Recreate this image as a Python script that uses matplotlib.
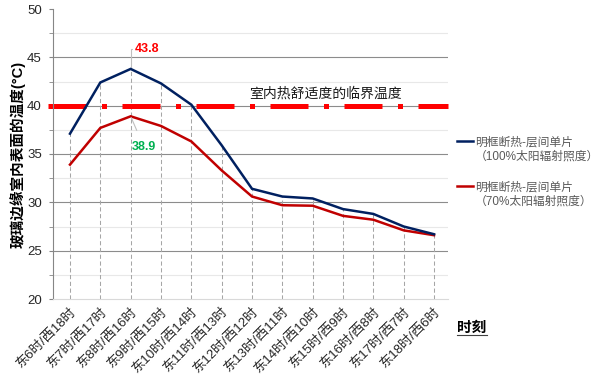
import matplotlib
matplotlib.use("Agg")
import matplotlib.pyplot as plt
from matplotlib.lines import Line2D
from matplotlib.ticker import MultipleLocator

plt.rcParams['font.family'] = ['Liberation Sans', 'Noto Sans CJK SC', 'DejaVu Sans']

# ---- data ----
categories = ["东6时/西18时", "东7时/西17时", "东8时/西16时", "东9时/西15时",
              "东10时/西14时", "东11时/西13时", "东12时/西12时", "东13时/西11时",
              "东14时/西10时", "东15时/西9时", "东16时/西8时", "东17时/西7时",
              "东18时/西6时"]
series_100 = [37.1, 42.4, 43.8, 42.3, 40.1, 35.9, 31.4, 30.6, 30.4, 29.3, 28.8, 27.5, 26.7]
series_70 = [33.9, 37.7, 38.9, 37.9, 36.3, 33.3, 30.6, 29.7, 29.65, 28.6, 28.2, 27.1, 26.6]
threshold = 40
threshold_label = "室内热舒适度的临界温度"
label_100 = "明框断热-层间单片\n（100%太阳辐射照度）"
label_70 = "明框断热-层间单片\n（70%太阳辐射照度）"
ylabel = "玻璃边缘室内表面的温度(°C)"
xlabel = "时刻"
y_major = [25, 30, 35, 40, 45]
y_minor = [22.5, 27.5, 32.5, 37.5, 42.5, 47.5]

BLUE = "#002060"
RED = "#C00000"

fig = plt.figure(figsize=(6, 3.81), dpi=100)
ax = fig.add_axes([53/600, 1-299/381, (448-53)/600, (299-9)/381])

x = list(range(len(categories)))
ax.set_xlim(-0.56, len(categories) - 1 + 0.46)
ax.set_ylim(20, 50)

# grid
ax.yaxis.set_major_locator(MultipleLocator(5))
ax.yaxis.set_minor_locator(MultipleLocator(2.5))
ytr = ax.get_yaxis_transform()
ax.hlines(y_minor, 0, 1, transform=ytr, colors='#E8E8E8', lw=0.8, zorder=0)
ax.hlines(y_major, 0, 1, transform=ytr, colors='#8C8C8C', lw=0.8, zorder=0)

# drop lines
ax.vlines(x, 20, [max(a, b) for a, b in zip(series_100, series_70)],
          colors='#A6A6A6', linestyles=(0, (4, 2.5)), lw=0.75, zorder=1)

# threshold line
ax.axhline(threshold, xmin=-0.012, xmax=1, color='#FF0000', lw=3.6,
           linestyle=(0, (7.6, 3.1, 1.0, 3.1)), dash_capstyle='butt',
           clip_on=False, zorder=2)
ax.text(0.69, 0.71, threshold_label, transform=ax.transAxes, ha='center', va='center',
        fontsize=10, color='#1A1A1A', style='italic')

# series
ax.plot(x, series_70, color=RED, lw=1.8, zorder=3, solid_joinstyle='miter')
ax.plot(x, series_100, color=BLUE, lw=1.8, zorder=4, solid_joinstyle='miter')

# annotations
imax = series_100.index(max(series_100))
ax.annotate(f"{series_100[imax]:.1f}", xy=(imax, series_100[imax]), xytext=(3, 14.5),
            textcoords='offset points', ha='left', va='center', fontsize=9,
            fontweight='bold', color='#FF0000',
            arrowprops=dict(arrowstyle='-', color='#BFBFBF', lw=0.8,
                            connectionstyle='angle,angleA=0,angleB=90,rad=0',
                            shrinkA=0, shrinkB=0))
imax70 = series_70.index(max(series_70))
ax.annotate(f"{series_70[imax70]:.1f}", xy=(imax70, series_70[imax70]), xytext=(9.5, -22),
            textcoords='offset points', ha='center', va='center', fontsize=9,
            fontweight='bold', color='#00B050',
            arrowprops=dict(arrowstyle='-', color='#BFBFBF', lw=0.8,
                            shrinkA=6, shrinkB=1))

# axes styling
for s in ['top', 'right']:
    ax.spines[s].set_visible(False)
ax.spines['left'].set_color('#868686')
ax.spines['bottom'].set_color('#D9D9D9')
ax.tick_params(axis='y', which='both', direction='out', length=3, color='#868686',
               labelsize=9.5, labelcolor='#262626', pad=5)
ax.tick_params(axis='x', length=0, pad=5)
ax.set_xticks(x)
ax.set_xticklabels(categories, rotation=45, ha='right', rotation_mode='anchor',
                   fontsize=9.5, color='#262626')
ax.set_ylabel(ylabel, fontsize=10.5, fontweight='bold', color='#000000', labelpad=1)

# x label (underlined)
fig.text(457/600, 1-328/381, xlabel, fontsize=10.5, fontweight='bold', ha='left', va='center')
fig.add_artist(Line2D([457/600, 487/600], [1-334.5/381, 1-334.5/381], color='#404040', lw=0.8))

# legend (manual)
for lbl, col, yc in [(label_100, BLUE, 141.5), (label_70, RED, 186.5)]:
    fig.add_artist(Line2D([457/600, 473/600], [1-yc/381, 1-yc/381], color=col, lw=1.8))
    fig.text(475/600, 1-(yc+8)/381, lbl, fontsize=8.5, color='#595959', ha='left',
             va='center', linespacing=1.3)

fig.savefig("out.png", dpi=100)
